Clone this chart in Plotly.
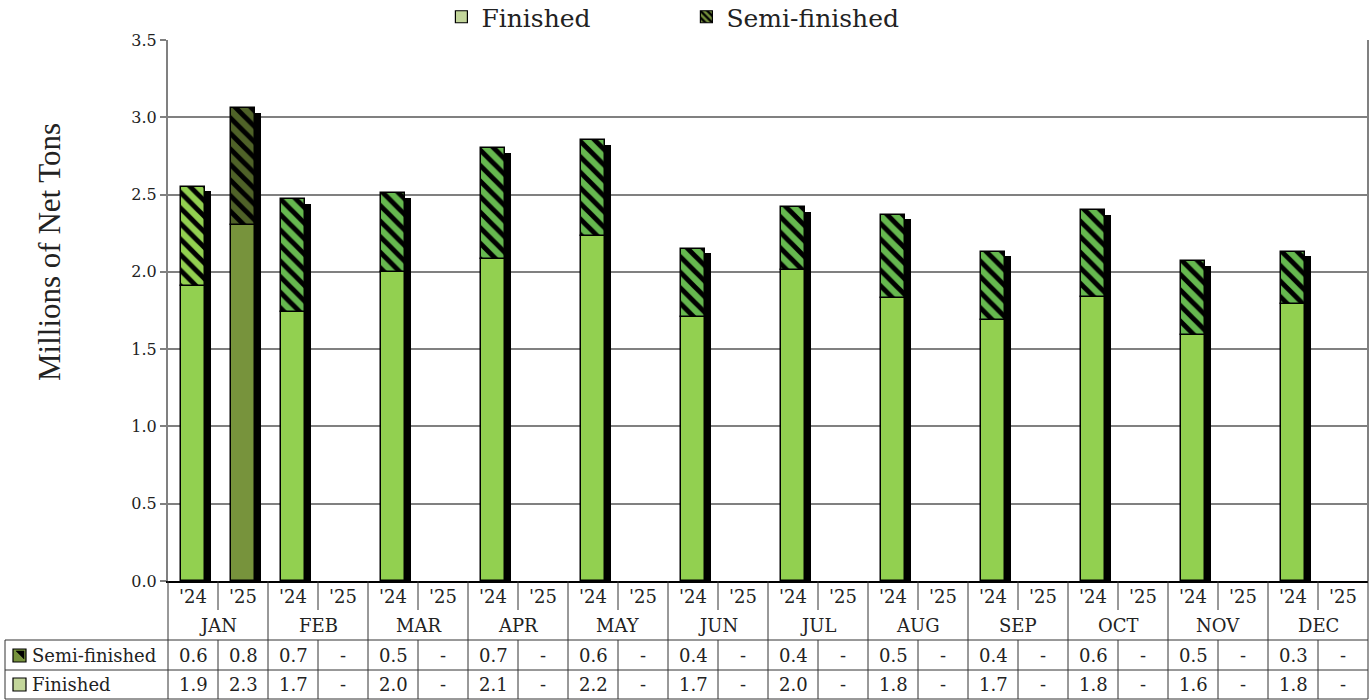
import plotly.graph_objects as go

# ---------------- data ----------------
months = ["JAN", "FEB", "MAR", "APR", "MAY", "JUN", "JUL", "AUG", "SEP", "OCT", "NOV", "DEC"]
years = ["'24", "'25"]
finished_2024 = [1.91, 1.74, 2.00, 2.08, 2.23, 1.71, 2.01, 1.83, 1.69, 1.84, 1.59, 1.79]
semi_2024 = [0.64, 0.73, 0.51, 0.72, 0.62, 0.44, 0.41, 0.54, 0.44, 0.56, 0.48, 0.34]
finished_2025 = [2.30] + [None] * 11
semi_2025 = [0.76] + [None] * 11

# ---------------- styling ----------------
FONT = "DejaVu Serif"
TXT = "#222222"
GRID = "#808080"
c_fin24 = "#92D050"
c_fin25 = "#77933C"
c_semi24_jan = "#92D050"
c_semi24 = "#66B84F"
c_semi25 = "#4F6228"

# build slot arrays (x = 2*month + year)
xs, fin, semi, fin_col, semi_col = [], [], [], [], []
for i in range(12):
    for j, (f, s) in enumerate([(finished_2024[i], semi_2024[i]), (finished_2025[i], semi_2025[i])]):
        xs.append(2 * i + j)
        fin.append(f)
        semi.append(s)
        if j == 0:
            fin_col.append(c_fin24)
            semi_col.append(c_semi24_jan if i == 0 else c_semi24)
        else:
            fin_col.append(c_fin25)
            semi_col.append(c_semi25)

total = [(f + s) if (f is not None and s is not None) else None for f, s in zip(fin, semi)]

BW = 0.48
fig = go.Figure()

# shadow
fig.add_trace(go.Bar(
    x=xs, y=total, base=-0.03, width=BW, offset=-BW / 2 + 0.12,
    marker=dict(color="black", line=dict(width=0)), showlegend=False, hoverinfo="skip"))

# finished
fig.add_trace(go.Bar(
    x=xs, y=fin, width=BW, offset=-BW / 2, name="Finished",
    marker=dict(color=fin_col, line=dict(color="black", width=1.5)), showlegend=False))

# semi-finished: one trace per fill colour
for col in (c_semi24_jan, c_semi24, c_semi25):
    ys = [s if c == col else None for s, c in zip(semi, semi_col)]
    bs = [f if (c == col and f is not None) else 0 for f, c in zip(fin, semi_col)]
    fig.add_trace(go.Bar(
        x=xs, y=ys, base=bs, width=BW, offset=-BW / 2, name="Semi-finished",
        marker=dict(color=col, line=dict(color="black", width=1.5),
                    pattern=dict(shape="\\", fgcolor="black", bgcolor=col, fgopacity=1,
                                 size=11, solidity=0.45)),
        showlegend=False))

# legend-only traces
fig.add_trace(go.Bar(x=[None], y=[None], name="Finished",
                     marker=dict(color="#C3D69B", line=dict(color="black", width=1.2))))
fig.add_trace(go.Bar(x=[None], y=[None], name="Semi-finished",
                     marker=dict(color="#76923C", line=dict(color="black", width=1.2),
                                 pattern=dict(shape="\\", fgcolor="black", bgcolor="#76923C",
                                              fgopacity=1, size=6, solidity=0.5))))

# ---------------- table / category labels ----------------
W_PLOT = 1200.0
H_PLOT = 541.0
def px_x(px):
    return (px - 168) / W_PLOT
def px_y(py):
    return (581 - py) / H_PLOT

shapes = []
ann = []
line_c = "#333333"
def hline(x0, x1, py, color=line_c, w=1):
    shapes.append(dict(type="line", xref="paper", yref="paper", x0=x0, x1=x1,
                       y0=px_y(py), y1=px_y(py), line=dict(color=color, width=w)))
def vline(x, py0, py1, color=line_c, w=1):
    shapes.append(dict(type="line", xref="paper", yref="paper", x0=x, x1=x,
                       y0=px_y(py0), y1=px_y(py1), line=dict(color=color, width=w)))

# horizontal table lines
for py in (640, 670, 699):
    hline(px_x(5), 1.0, py)
# left label column edge
vline(px_x(5), 640, 699)
# month dividers
for k in range(13):
    vline(k / 12, 581, 699)
# year dividers
for k in range(12):
    xm = (2 * k + 1) / 24
    vline(xm, 581, 610)
    vline(xm, 640, 699)

# right border of plot area
shapes.append(dict(type="line", xref="paper", yref="paper", x0=1, x1=1, y0=0, y1=1,
                   line=dict(color=GRID, width=2)))

fs = 18
for i, m in enumerate(months):
    for j, yl in enumerate(years):
        x = 2 * i + j
        ann.append(dict(x=x, y=px_y(596), xref="x", yref="paper", text=yl, showarrow=False,
                        font=dict(family=FONT, size=fs, color=TXT), xanchor="center", yanchor="middle"))
    ann.append(dict(x=2 * i + 0.5, y=px_y(625), xref="x", yref="paper", text=m, showarrow=False,
                    font=dict(family=FONT, size=fs, color=TXT), xanchor="center", yanchor="middle"))

def fmt(v):
    return "-" if v is None else f"{v:.1f}"

for x, s, f in zip(xs, semi, fin):
    ann.append(dict(x=x, y=px_y(655), xref="x", yref="paper", text=fmt(s), showarrow=False,
                    font=dict(family=FONT, size=fs, color=TXT), xanchor="center", yanchor="middle"))
    ann.append(dict(x=x, y=px_y(684), xref="x", yref="paper", text=fmt(f), showarrow=False,
                    font=dict(family=FONT, size=fs, color=TXT), xanchor="center", yanchor="middle"))

# row labels with icons
ann.append(dict(x=px_x(30), y=px_y(655), xref="paper", yref="paper", text="Semi-finished",
                showarrow=False, font=dict(family=FONT, size=fs, color=TXT), xanchor="left", yanchor="middle"))
ann.append(dict(x=px_x(30), y=px_y(684), xref="paper", yref="paper", text="Finished",
                showarrow=False, font=dict(family=FONT, size=fs, color=TXT), xanchor="left", yanchor="middle"))
shapes.append(dict(type="rect", xref="paper", yref="paper", x0=px_x(13), x1=px_x(26),
                   y0=px_y(662), y1=px_y(649), fillcolor="#76923C", line=dict(color="black", width=1.2)))
shapes.append(dict(type="path", xref="paper", yref="paper",
                   path=f"M {px_x(16)} {px_y(651)} L {px_x(24)} {px_y(651)} L {px_x(24)} {px_y(659)} Z",
                   fillcolor="black", line=dict(color="black", width=0.5)))
shapes.append(dict(type="rect", xref="paper", yref="paper", x0=px_x(13), x1=px_x(26),
                   y0=px_y(691), y1=px_y(678), fillcolor="#C3D69B", line=dict(color="black", width=1.2)))

# y-axis title
ann.append(dict(x=px_x(50), y=px_y(252), xref="paper", yref="paper", text="Millions of Net Tons",
                showarrow=False, textangle=-90, font=dict(family="Liberation Serif", size=31, color=TXT),
                xanchor="center", yanchor="middle"))

fig.update_layout(
    width=1372, height=700,
    margin=dict(l=168, r=4, t=40, b=119, autoexpand=False),
    paper_bgcolor="white", plot_bgcolor="white",
    barmode="overlay",
    bargap=0,
    shapes=shapes, annotations=ann,
    legend=dict(orientation="h", x=0.432, xanchor="center", y=px_y(17), yanchor="middle",
                font=dict(family=FONT, size=25, color=TXT), entrywidth=200,
                bgcolor="rgba(0,0,0,0)"),
    xaxis=dict(range=[-0.5, 23.5], showticklabels=False, showgrid=False, zeroline=False,
               showline=True, linecolor="black", linewidth=1.5, ticks=""),
    yaxis=dict(range=[0, 3.5], dtick=0.5, tickformat=".1f", showgrid=True, gridcolor=GRID,
               gridwidth=1.5, zeroline=False, showline=True, linecolor=GRID, linewidth=2,
               ticks="outside", ticklen=6, tickcolor=GRID, tickwidth=1.5,
               tickfont=dict(family=FONT, size=16, color=TXT)),
)

fig.write_html("out.html", config={"displayModeBar": False},
               post_script="document.body.style.margin='0px';document.body.style.overflow='hidden';")
